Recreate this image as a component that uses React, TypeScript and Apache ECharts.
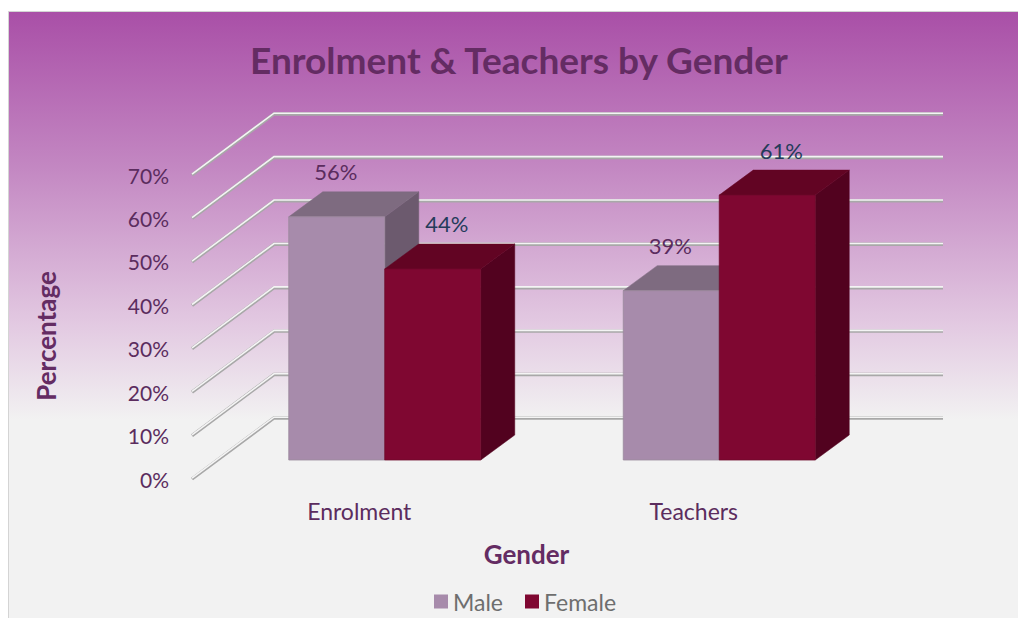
import React, { useEffect, useRef } from "react";
import * as echarts from "echarts";

const categories = ["Enrolment", "Teachers"];
const maleValues = [56, 39];
const femaleValues = [44, 61];
const seriesNames = ["Male", "Female"];
const yTicks = [0, 10, 20, 30, 40, 50, 60, 70];

const FONT = "Lato, 'Open Sans', sans-serif";
const DEPTH = [82, -61];
const FRONT_OFF = [25.5, -19];
const BAR_DEPTH = [34, -25];
const BAR_FRAC = 96 / 334.5;

const maleColors = { front: "#a78bab", top: "#7e6b80", side: "#6c5a6e", stroke: "#9a8a9c" };
const femaleColors = { front: "#7f0731", top: "#620423", side: "#52021f", stroke: "#6e0a2c" };

function barRender(side: number, colors: any, labelColor: string, labelDx: number) {
  return (params: any, api: any) => {
    const cat = api.value(0);
    const v = api.value(1);
    const base = api.coord([cat, 0]);
    const top = api.coord([cat, v]);
    const band = api.size([1, 0])[0];
    const w = band * BAR_FRAC;
    const x0 = base[0] + (side === 0 ? -w : 0) + FRONT_OFF[0];
    const x1 = x0 + w;
    const yB = base[1] + FRONT_OFF[1];
    const yT = top[1] + FRONT_OFF[1];
    const bx = BAR_DEPTH[0];
    const by = BAR_DEPTH[1];
    return {
      type: "group",
      children: [
        {
          type: "polygon",
          shape: { points: [[x1, yT], [x1, yB], [x1 + bx, yB + by], [x1 + bx, yT + by]] },
          style: { fill: colors.side, stroke: colors.side, lineWidth: 0.5 },
        },
        {
          type: "polygon",
          shape: { points: [[x0, yT], [x1, yT], [x1 + bx, yT + by], [x0 + bx, yT + by]] },
          style: { fill: colors.top, stroke: colors.top, lineWidth: 0.5 },
        },
        {
          type: "rect",
          shape: { x: x0, y: yT, width: w, height: yB - yT },
          style: { fill: colors.front, stroke: colors.stroke, lineWidth: 0.8 },
        },
        {
          type: "text",
          x: (x0 + x1) / 2 + labelDx,
          y: yT + by - 20,
          style: {
            text: v + "%",
            fill: labelColor,
            fontSize: 22,
            fontFamily: FONT,
            align: "center",
            verticalAlign: "middle",
          },
        },
      ],
    };
  };
}

function gridRender(params: any, api: any) {
  const v = api.value(1);
  const y = api.coord([0, v])[1];
  const cs = params.coordSys;
  const xF = cs.x;
  const xB = cs.x + DEPTH[0];
  const yB = y + DEPTH[1];
  const xE = cs.x + cs.width + DEPTH[0];
  const pts = [[xF, y], [xB, yB], [xE, yB]];
  const ptsHi = [[xF, y - 0.8], [xB, yB - 0.8], [xE, yB - 0.8]];
  return {
    type: "group",
    children: [
      { type: "polyline", shape: { points: pts }, style: { stroke: "#a8a8a8", lineWidth: 3.4, fill: "none" } },
      { type: "polyline", shape: { points: ptsHi }, style: { stroke: "#f4f4f4", lineWidth: 1.6, fill: "none" } },
    ],
  };
}

export default function App() {
  const ref = useRef<HTMLDivElement>(null);
  useEffect(() => {
    if (!ref.current) return;
    const chart = echarts.init(ref.current, null, { renderer: "svg" });
    const option: any = {
      animation: false,
      graphic: [
        {
          type: "rect",
          z: -10,
          shape: { x: 8.5, y: 11.5, width: 1020, height: 620 },
          style: {
            fill: new echarts.graphic.LinearGradient(0, 0, 0, 1, [
              { offset: 0, color: "#a94fa7" },
              { offset: 0.25, color: "#c387c2" },
              { offset: 0.5, color: "#e2c8e1" },
              { offset: 0.66, color: "#f2f2f2" },
              { offset: 1, color: "#f2f2f2" },
            ]),
            stroke: "#d4d4d4",
            lineWidth: 1,
          },
        },
        {
          type: "text",
          x: 519,
          y: 59,
          style: {
            text: "Enrolment & Teachers by Gender",
            fill: "#642c63",
            fontSize: 37,
            fontWeight: "bold",
            fontFamily: FONT,
            align: "center",
            verticalAlign: "middle",
          },
        },
      ],
      legend: {
        left: 434,
        top: 590,
        padding: 0,
        itemWidth: 14,
        itemHeight: 14,
        itemGap: 22,
        icon: "rect",
        textStyle: { color: "#6e6e6e", fontSize: 23, fontFamily: FONT },
        data: seriesNames,
      },
      grid: { left: 192, top: 175, width: 669, height: 304 },
      xAxis: {
        type: "category",
        data: categories,
        axisLine: { show: false },
        axisTick: { show: false },
        axisLabel: { color: "#5b2c5e", fontSize: 23, fontFamily: FONT, margin: 20 },
        name: "Gender",
        nameLocation: "middle",
        nameGap: 62,
        nameTextStyle: { color: "#642c63", fontSize: 26, fontWeight: "bold", fontFamily: FONT },
      },
      yAxis: {
        type: "value",
        min: 0,
        max: 70,
        interval: 10,
        axisLine: { show: false },
        axisTick: { show: false },
        splitLine: { show: false },
        axisLabel: { color: "#5b2c5e", fontSize: 21, fontFamily: FONT, margin: 23, formatter: "{value}%" },
        name: "Percentage",
        nameLocation: "middle",
        nameRotate: 90,
        nameGap: 133,
        nameTextStyle: {
          color: "#642c63",
          fontSize: 26,
          fontWeight: "bold",
          fontFamily: FONT,
          padding: [0, 18, 0, 0],
        },
      },
      series: [
        {
          type: "custom",
          name: "grid3d",
          z: 1,
          silent: true,
          renderItem: gridRender,
          data: yTicks.map((v) => [0, v]),
        },
        {
          type: "custom",
          name: seriesNames[0],
          z: 2,
          itemStyle: { color: maleColors.front },
          renderItem: barRender(0, maleColors, "#5b2c5e", -1),
          data: maleValues.map((v, i) => [i, v]),
        },
        {
          type: "custom",
          name: seriesNames[1],
          z: 3,
          itemStyle: { color: femaleColors.front },
          renderItem: barRender(1, femaleColors, "#243b5a", 14),
          data: femaleValues.map((v, i) => [i, v]),
        },
      ],
    };
    chart.setOption(option);
    return () => chart.dispose();
  }, []);
  return (
    <div
      ref={ref}
      style={{ position: "absolute", left: 0, top: 0, width: 1018, height: 618 }}
    />
  );
}
